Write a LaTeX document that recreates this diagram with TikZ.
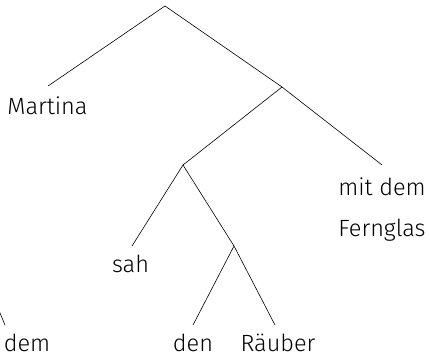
\documentclass[tikz,border=0pt]{standalone}
\usepackage{fontspec}
\IfFontExistsTF{Fira Sans Light}{\setmainfont{Fira Sans Light}}{\setmainfont{Fira Sans}}
\begin{document}
\begin{tikzpicture}[x=1pt,y=-1pt,
  edge/.style={line width=0.6pt, black},
  word/.style={anchor=base, inner sep=0pt, font=\fontsize{23.5}{26}\selectfont}]
\useasboundingbox (0,0) rectangle (430,355);
\clip (0,0) rectangle (430,355);
% internal nodes
\coordinate (root) at (165,6);
\coordinate (n1) at (282,87);
\coordinate (n2) at (183,165);
\coordinate (n3) at (234,246);
\coordinate (outer) at (-20,265);
% leaf ends
\coordinate (eMartina) at (48,86);
\coordinate (eMit) at (382,165);
\coordinate (eSah) at (132,246);
\coordinate (eDen) at (193,325);
\coordinate (eRaeuber) at (275,325);
\coordinate (eDem) at (5,325);
% words
\node[word] (Martina) at (47.5,115) {Martina};
\node[word] (mitdem) at (382,195) {mit dem};
\node[word] (Fernglas) at (382,236) {Fernglas};
\node[word] (sah) at (130.5,272) {sah};
\node[word] (den) at (193,351) {den};
\node[word] (Raeuber) at (278,351) {Räuber};
\node[word] (dem) at (27,351) {dem};
% edges
\draw[edge] (eMartina) -- (root) -- (n1) -- (eMit);
\draw[edge] (n1) -- (n2);
\draw[edge] (eSah) -- (n2) -- (n3);
\draw[edge] (eDen) -- (n3) -- (eRaeuber);
\draw[edge] (outer) -- (eDem);
\end{tikzpicture}
\end{document}
